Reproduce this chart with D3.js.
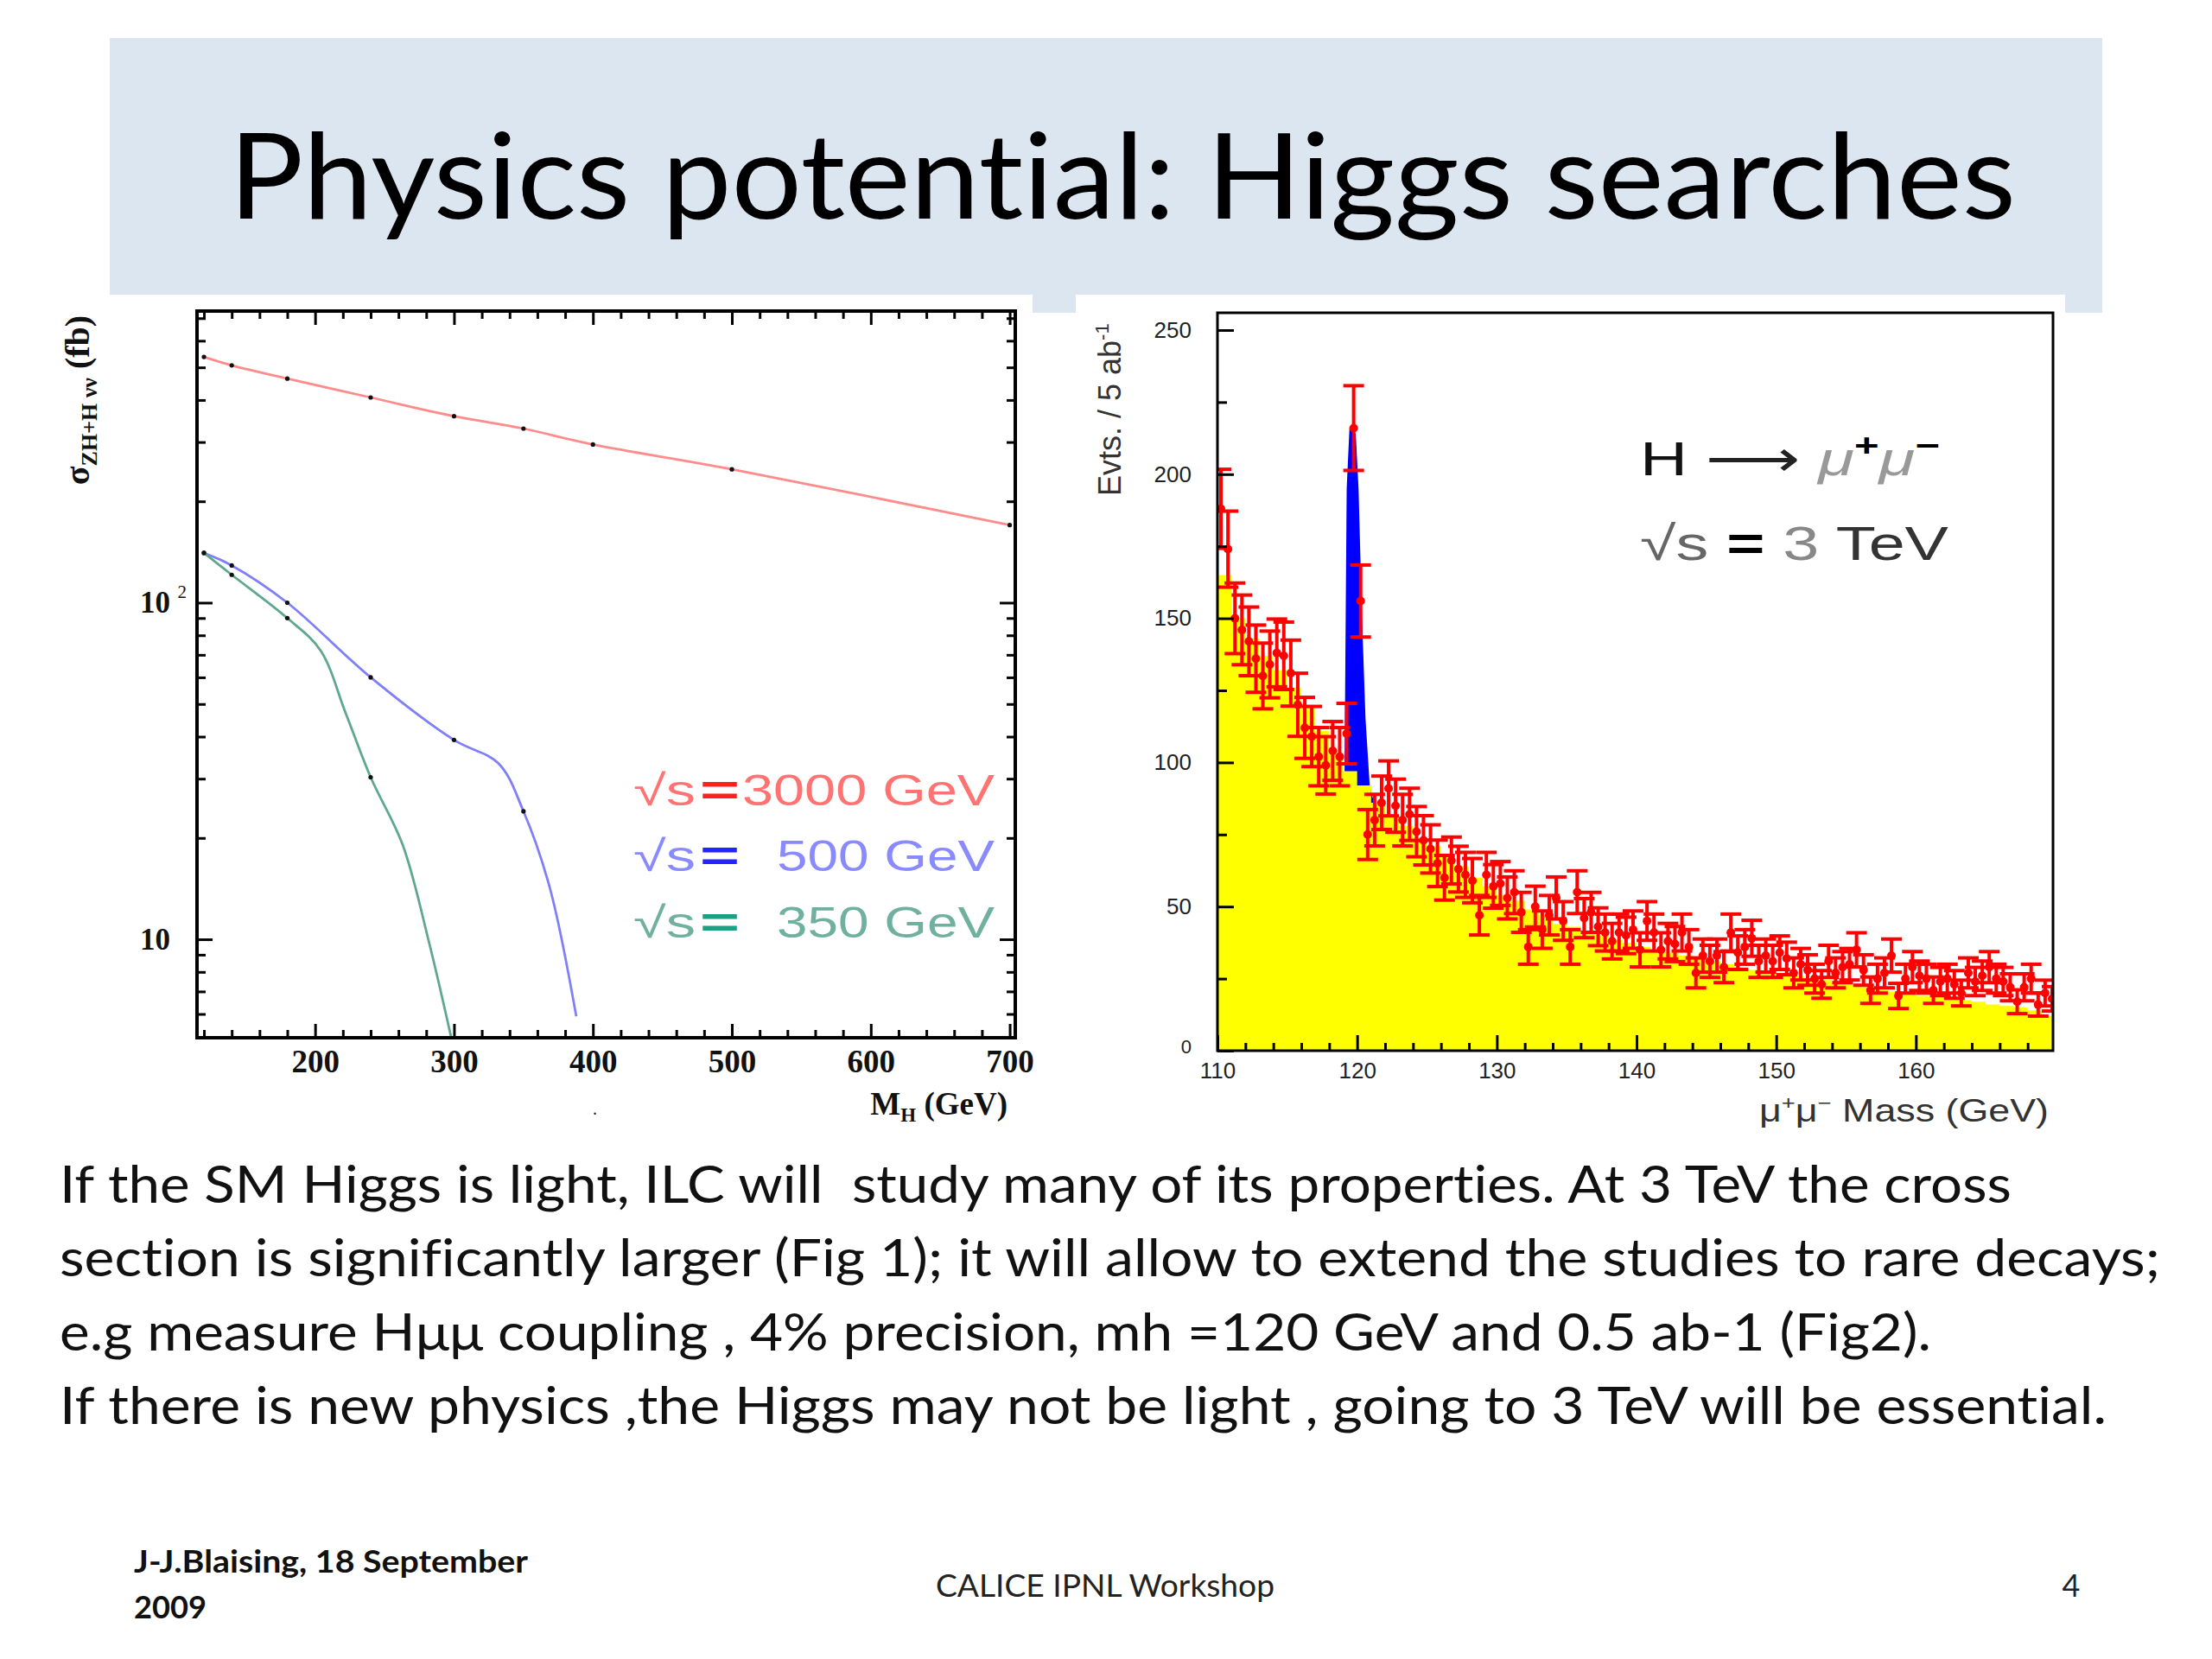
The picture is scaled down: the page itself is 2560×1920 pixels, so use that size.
<!DOCTYPE html>
<html><head><meta charset="utf-8">
<script src="https://cdn.jsdelivr.net/npm/d3@7/dist/d3.min.js"></script>
<style>body{margin:0;background:#fff} text{font-variant-ligatures:none;font-feature-settings:"liga" 0,"clig" 0}</style>
</head><body>
<svg id="c" width="2560" height="1920" xmlns="http://www.w3.org/2000/svg"></svg>
<script>
// ---------------- DATA ----------------
const titleText = "Physics potential: Higgs searches";
const bodyLines = [
  "If the SM Higgs is light, ILC will  study many of its properties. At 3 TeV the cross",
  "section is significantly larger (Fig 1); it will allow to extend the studies to rare decays;",
  "e.g measure Hμμ coupling , 4% precision, mh =120 GeV and 0.5 ab-1 (Fig2).",
  "If there is new physics ,the Higgs may not be light , going to 3 TeV will be essential."
];
const footerAuthor = ["J-J.Blaising, 18 September", "2009"];
const footerCenter = "CALICE IPNL Workshop";
const pageNumber = "4";

// Fig 1: cross sections (fb) vs M_H (GeV)
const red3000M = [120, 140, 180, 240, 300, 350, 400, 500, 700];
const red3000S = [537, 507, 463, 407, 358, 329, 295, 249, 170];
const blue500M = [120, 140, 180, 240, 300, 332, 350, 369, 388];
const blue500S = [140.5, 129, 100, 60, 39.1, 33.3, 24, 14.2, 5.9];
const green350M = [120, 140, 180, 204, 222, 240, 263, 282, 298];
const green350S = [140.5, 121, 90, 72, 47, 30.3, 19.1, 9.8, 5.1];
const dotMasses = [120, 140, 180, 240, 300, 350, 400, 500, 700];
const legendNumbers = ["3000 GeV", "500 GeV", "350 GeV"];
const fig1XTicks = [200, 300, 400, 500, 600, 700];
const fig1YTicks = [10, 100];
const fig1YLabels = ["10", "10"];

// Fig 2: mu+mu- mass spectrum, 0.5 GeV bins from 110 GeV
const dataLo = 110, dataBinWidth = 0.5;
const dataCounts = [
  188,174,150,146,142,136,130,134,138,137,131,120,112,109,102,99,104,102,110,216,
  156,75,80,86,91,85,80,82,76,73,
  70,65,60,66,63,61,59,47,61,57,58,53,55,48,36,50,42,47,53,45,
  36,55,46,48,43,41,38,41,40,42,
  35,45,41,35,38,37,41,36,27,33,31,33,29,41,34,36,39,31,33,31,34,32,27,30,
  28,25,23,31,27,29,30,35,28,21,25,27,33,19,25,29,26,25,21,24,
  25,23,20,27,24,26,29,25,24,22,17,22,25,16,20,18
];
// background expectation, 1 GeV bins from 110 GeV
const bgLo = 110, bgBinWidth = 1;
const bgCounts = [
  165,150,143,137,132,126,119,111,103,97,
  92,86,82,78,74,71,68,64,60,57,
  54,52,49,47,44,43,41,40,38.5,37.5,
  36,35,34,33,32,31,30,29,28,27.5,
  27,26,25,24.5,23.5,23,22,21,20.5,20,
  19,18.5,18,17.5,17,16,15.5,15,14,12
];
// signal (stacked total) outline
const sigM = [119.1, 119.25, 119.45, 119.9, 120.1, 120.35, 120.6, 120.9, 121.2];
const sigV = [100, 195, 216, 214, 195, 150, 115, 92, 86];
const fig2XTicks = [110, 120, 130, 140, 150, 160];
const fig2YTicks = [0, 50, 100, 150, 200, 250];

// ---------------- DRAW ----------------
const svg = d3.select("#c");
const SANS = "Lato, 'Open Sans', sans-serif";

// title box
svg.append("rect").attr("x",127).attr("y",44).attr("width",2306).attr("height",318).attr("fill","#dce6f1");
svg.append("rect").attr("x",60).attr("y",341).attr("width",1135).attr("height",990).attr("fill","#fff");
svg.append("rect").attr("x",1245).attr("y",341).attr("width",1145).attr("height",990).attr("fill","#fff");
svg.append("text").attr("x",265).attr("y",253).attr("font-family",SANS).attr("font-size",138)
  .attr("textLength",2068).attr("lengthAdjust","spacingAndGlyphs").attr("fill","#000").text(titleText);

// body text
const bodyEnds = [2328, 2500, 2235, 2438];
const bodyBase = [1392, 1477, 1563, 1648];
bodyLines.forEach((t,i)=>{
  svg.append("text").attr("x",69).attr("y",bodyBase[i]).attr("font-family",SANS).attr("font-size",60)
    .style("white-space","pre").attr("textLength",bodyEnds[i]-69).attr("lengthAdjust","spacingAndGlyphs")
    .attr("fill","#111").text(t);
});
// footer
svg.append("text").attr("x",155).attr("y",1820).attr("font-family",SANS).attr("font-weight","bold").attr("font-size",36)
  .attr("textLength",456).attr("lengthAdjust","spacingAndGlyphs").attr("fill","#111").text(footerAuthor[0]);
svg.append("text").attr("x",155).attr("y",1873).attr("font-family",SANS).attr("font-weight","bold").attr("font-size",36)
  .attr("textLength",84).attr("lengthAdjust","spacingAndGlyphs").attr("fill","#111").text(footerAuthor[1]);
svg.append("text").attr("x",1083).attr("y",1848).attr("font-family",SANS).attr("font-size",36)
  .attr("textLength",392).attr("lengthAdjust","spacingAndGlyphs").attr("fill","#222").text(footerCenter);
svg.append("text").attr("x",2397).attr("y",1848).attr("text-anchor","middle").attr("font-family",SANS).attr("font-size",36)
  .attr("fill","#222").text(pageNumber);

// ---------- Fig 1 ----------
const L = {x0:228, x1:1175, y0:360, y1:1201};
const lx = d3.scaleLinear().domain([115,704]).range([L.x0,L.x1]);
const ly = d3.scaleLog().domain([5.1,735]).range([L.y1,L.y0]);
const SERIF = "'Liberation Serif', 'DejaVu Serif', serif";

svg.append("clipPath").attr("id","clipL").append("rect")
  .attr("x",L.x0).attr("y",L.y0).attr("width",L.x1-L.x0).attr("height",L.y1-L.y0);
const gL = svg.append("g");

const lineL = d3.line().x(d=>lx(d[0])).y(d=>ly(d[1])).curve(d3.curveCatmullRom.alpha(0.5));
const seriesL = [
  {m:red3000M, s:red3000S, c:"#ff8c8c"},
  {m:blue500M, s:blue500S, c:"#7f7ffa"},
  {m:green350M, s:green350S, c:"#5fa88e"}
];
const gCurves = gL.append("g").attr("clip-path","url(#clipL)");
seriesL.forEach(se=>{
  const pts = se.m.map((m,i)=>[m, se.s[i]]);
  gCurves.append("path").datum(pts).attr("d",lineL).attr("fill","none").attr("stroke",se.c).attr("stroke-width",2.8);
  gCurves.selectAll(null).data(pts.filter(p=>dotMasses.includes(p[0]))).join("circle")
    .attr("cx",d=>lx(d[0])).attr("cy",d=>ly(d[1])).attr("r",2.6).attr("fill","#111");
});

// axes fig1 (ticks inward on all sides)
const minorX1 = d3.range(120, 701, 20).filter(v=>v%100!==0);
const majorX1 = [200,300,400,500,600,700];
const minorY1 = [6,7,8,9,20,30,40,50,60,70,80,90,200,300,400,500,600,700];
function styleAxis(g){ g.select(".domain").remove(); g.selectAll("line").attr("stroke","#000").attr("stroke-width",3); }
gL.append("g").attr("transform",`translate(0,${L.y1})`)
  .call(d3.axisBottom(lx).tickValues(fig1XTicks).tickSize(-16).tickPadding(14).tickFormat(d3.format("d")))
  .call(styleAxis)
  .call(g=>g.selectAll("text").attr("font-family",SERIF).attr("font-weight","bold").attr("font-size",37).attr("fill","#111"));
gL.append("g").attr("transform",`translate(0,${L.y1})`).call(d3.axisBottom(lx).tickValues(minorX1).tickSize(-9).tickFormat("")).call(styleAxis);
gL.append("g").attr("transform",`translate(0,${L.y0})`).call(d3.axisTop(lx).tickValues(majorX1).tickSize(-16).tickFormat("")).call(styleAxis);
gL.append("g").attr("transform",`translate(0,${L.y0})`).call(d3.axisTop(lx).tickValues(minorX1).tickSize(-9).tickFormat("")).call(styleAxis);
gL.append("g").attr("transform",`translate(${L.x0},0)`)
  .call(d3.axisLeft(ly).tickValues(fig1YTicks).tickSize(-18).tickPadding(31).tickFormat((d,i)=>fig1YLabels[i]))
  .call(styleAxis)
  .call(g=>g.selectAll("text").attr("font-family",SERIF).attr("font-weight","bold").attr("font-size",35).attr("fill","#111"));
gL.append("g").attr("transform",`translate(${L.x0},0)`).call(d3.axisLeft(ly).tickValues(minorY1).tickSize(-10).tickFormat("")).call(styleAxis);
gL.append("g").attr("transform",`translate(${L.x1},0)`).call(d3.axisRight(ly).tickValues(fig1YTicks).tickSize(-18).tickFormat("")).call(styleAxis);
gL.append("g").attr("transform",`translate(${L.x1},0)`).call(d3.axisRight(ly).tickValues(minorY1).tickSize(-10).tickFormat("")).call(styleAxis);
// exponent of 10^2
gL.append("text").attr("x",L.x0-12).attr("y",ly(100)-5).attr("text-anchor","end").attr("font-family",SERIF)
  .attr("font-size",21).attr("fill","#111").text("2");
// frame
gL.append("rect").attr("x",L.x0).attr("y",L.y0).attr("width",L.x1-L.x0).attr("height",L.y1-L.y0)
  .attr("fill","none").attr("stroke","#000").attr("stroke-width",4);

// axis titles fig1
const xt1 = gL.append("text").attr("x",1166).attr("y",1290).attr("text-anchor","end").attr("font-family",SERIF)
  .attr("font-weight","bold").attr("font-size",37).attr("fill","#111");
xt1.append("tspan").text("M");
xt1.append("tspan").attr("font-size",23).attr("dy",8).text("H");
xt1.append("tspan").attr("dy",-8).text(" (GeV)");
const yt1 = gL.append("text").attr("transform","translate(103,463) rotate(-90)").attr("text-anchor","middle")
  .attr("font-family",SERIF).attr("font-weight","bold").attr("font-size",40).attr("fill","#111");
yt1.append("tspan").text("σ");
yt1.append("tspan").attr("font-size",26).attr("dy",9).text("ZH+H νν");
yt1.append("tspan").attr("dy",-9).text(" (fb)");
gL.append("text").attr("x",686).attr("y",1290).attr("font-size",20).attr("fill","#222").text(".");

// legend fig1
const legendCols = [
  {t:"#ff7373", e:"#ff1f1f"},
  {t:"#8a8aff", e:"#2424ff"},
  {t:"#6fb09e", e:"#1d9f84"}
];
const legBase = [932, 1008, 1085];
const LSANS = "'Liberation Sans', Arial, sans-serif";
legendNumbers.forEach((n,i)=>{
  const gg = gL.append("g");
  gg.append("text").attr("x",733).attr("y",legBase[i]).attr("font-family",LSANS).attr("font-size",50)
    .attr("fill",legendCols[i].t).attr("textLength",72).attr("lengthAdjust","spacingAndGlyphs").text("√s");
  gg.append("text").attr("x",810).attr("y",legBase[i]).attr("font-family",LSANS).attr("font-size",50).attr("font-weight","bold")
    .attr("fill",legendCols[i].e).attr("textLength",46).attr("lengthAdjust","spacingAndGlyphs").text("=");
  const w = i===0 ? 292 : 252;
  gg.append("text").attr("x",1151-w).attr("y",legBase[i]).attr("font-family",LSANS).attr("font-size",50)
    .attr("fill",legendCols[i].t).attr("textLength",w).attr("lengthAdjust","spacingAndGlyphs").text(n);
});

// ---------- Fig 2 ----------
const R = {x0:1409, x1:2376, y0:362, y1:1216};
const rx = d3.scaleLinear().domain([110,170]).range([1409,2379]);
const ry = d3.scaleLinear().domain([0,250]).range([1216,382]);
svg.append("clipPath").attr("id","clipR").append("rect")
  .attr("x",R.x0).attr("y",R.y0).attr("width",R.x1-R.x0).attr("height",R.y1-R.y0);
const gR = svg.append("g");
const gRc = gR.append("g").attr("clip-path","url(#clipR)");

// signal (blue) under background
const sigPts = sigM.map((m,i)=>[m, sigV[i]]);
gRc.append("path").datum(sigPts)
  .attr("d", d3.area().x(d=>rx(d[0])).y0(ry(0)).y1(d=>ry(d[1])).curve(d3.curveLinear))
  .attr("fill","#0000ff");
// background (yellow) step histogram
const bgPts = bgCounts.map((v,i)=>[bgLo + i*bgBinWidth, v]);
bgPts.push([bgLo + bgCounts.length*bgBinWidth, bgCounts[bgCounts.length-1]]);
gRc.append("path").datum(bgPts)
  .attr("d", d3.area().x(d=>rx(d[0])).y0(ry(0)).y1(d=>ry(d[1])).curve(d3.curveStepAfter))
  .attr("fill","#ffff00");

// data with error bars
const dataPts = dataCounts.map((v,i)=>({m: dataLo + (i+0.5)*dataBinWidth, v, e: Math.sqrt(v)}));
const gE = gRc.append("g").attr("stroke","#ff0000").attr("stroke-width",4);
gE.selectAll("line.v").data(dataPts).join("line").attr("class","v")
  .attr("x1",d=>rx(d.m)).attr("x2",d=>rx(d.m)).attr("y1",d=>ry(d.v-d.e)).attr("y2",d=>ry(d.v+d.e));
gE.selectAll("line.t").data(dataPts).join("line").attr("class","t")
  .attr("x1",d=>rx(d.m)-12).attr("x2",d=>rx(d.m)+12).attr("y1",d=>ry(d.v+d.e)).attr("y2",d=>ry(d.v+d.e));
gE.selectAll("line.b").data(dataPts).join("line").attr("class","b")
  .attr("x1",d=>rx(d.m)-12).attr("x2",d=>rx(d.m)+12).attr("y1",d=>ry(d.v-d.e)).attr("y2",d=>ry(d.v-d.e));
gRc.selectAll("circle").data(dataPts).join("circle")
  .attr("cx",d=>rx(d.m)).attr("cy",d=>ry(d.v)).attr("r",5).attr("fill","#ff0000");

// axes fig2
const minorX2 = d3.range(112, 170, 2).filter(v=>v%10!==0);
const minorY2 = [25,75,125,175,225];
gR.append("g").attr("transform",`translate(0,${R.y1})`)
  .call(d3.axisBottom(rx).tickValues(fig2XTicks).tickSize(-18).tickPadding(14).tickFormat(d3.format("d")))
  .call(styleAxis)
  .call(g=>g.selectAll("text").attr("font-family",LSANS).attr("font-size",26).attr("fill","#222"));
gR.append("g").attr("transform",`translate(0,${R.y1})`).call(d3.axisBottom(rx).tickValues(minorX2).tickSize(-9).tickFormat("")).call(styleAxis);
gR.append("g").attr("transform",`translate(${R.x0},0)`)
  .call(d3.axisLeft(ry).tickValues(fig2YTicks).tickSize(-19).tickPadding(30).tickFormat(d3.format("d")))
  .call(styleAxis)
  .call(g=>g.selectAll("text").attr("font-family",LSANS).attr("font-size",26).attr("fill","#222"))
  .call(g=>g.selectAll(".tick").filter(d=>d===0).select("text").attr("font-size",22).attr("dy","0.1em"));
gR.append("g").attr("transform",`translate(${R.x0},0)`).call(d3.axisLeft(ry).tickValues(minorY2).tickSize(-11).tickFormat("")).call(styleAxis);
gR.append("rect").attr("x",R.x0).attr("y",R.y0).attr("width",R.x1-R.x0).attr("height",R.y1-R.y0)
  .attr("fill","none").attr("stroke","#000").attr("stroke-width",3);

// titles fig2
const yt2 = gR.append("text").attr("transform","translate(1297,574) rotate(-90)")
  .attr("font-family",LSANS).attr("font-size",36).attr("fill","#333");
yt2.append("tspan").text("Evts. / 5 ab");
yt2.append("tspan").attr("font-size",22).attr("dy",-14).text("-1");
const xt2 = gR.append("text").attr("x",2036).attr("y",1298).attr("font-family",LSANS).attr("font-size",36)
  .attr("fill","#333").attr("textLength",335).attr("lengthAdjust","spacingAndGlyphs");
xt2.append("tspan").text("μ");
xt2.append("tspan").attr("font-size",22).attr("dy",-14).text("+");
xt2.append("tspan").attr("dy",14).text("μ");
xt2.append("tspan").attr("font-size",22).attr("dy",-14).text("−");
xt2.append("tspan").attr("dy",14).text(" Mass (GeV)");

// legend fig2
const lg1 = gR.append("text").attr("x",1898).attr("y",550).attr("font-family",LSANS).attr("font-size",56)
  .attr("textLength",347).attr("lengthAdjust","spacingAndGlyphs");
lg1.append("tspan").attr("fill","#111").text("H ");
lg1.append("tspan").attr("fill","#222").text("⟶ ");
lg1.append("tspan").attr("fill","#999").attr("font-style","italic").text("μ");
lg1.append("tspan").attr("fill","#000").attr("font-weight","bold").attr("font-size",36).attr("dy",-22).text("+");
lg1.append("tspan").attr("fill","#999").attr("font-style","italic").attr("dy",22).text("μ");
lg1.append("tspan").attr("fill","#000").attr("font-weight","bold").attr("font-size",36).attr("dy",-22).text("−");
const lg2 = gR.append("text").attr("x",1898).attr("y",648).attr("font-family",LSANS).attr("font-size",56)
  .style("white-space","pre").attr("textLength",357).attr("lengthAdjust","spacingAndGlyphs");
lg2.append("tspan").attr("fill","#666").text("√s ");
lg2.append("tspan").attr("fill","#000").attr("font-weight","bold").text("= ");
lg2.append("tspan").attr("fill","#888").text("3 ");
lg2.append("tspan").attr("fill","#333").text("TeV");
</script>
</body></html>
